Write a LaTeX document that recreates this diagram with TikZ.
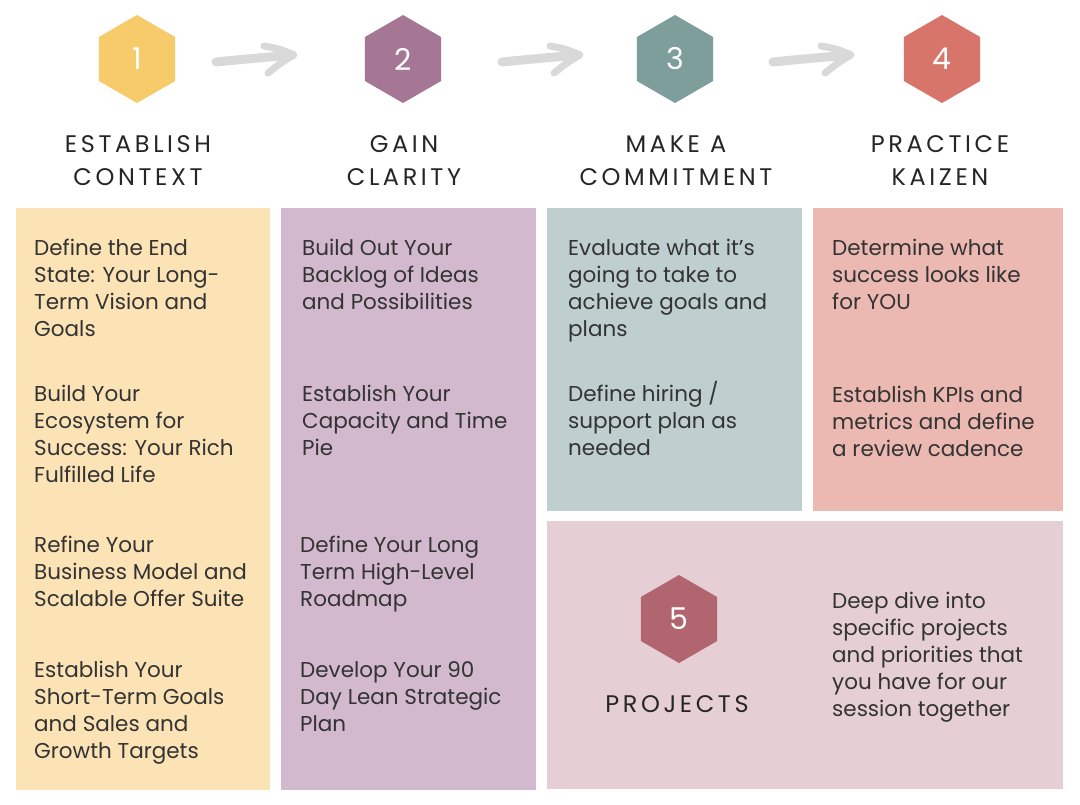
\documentclass[tikz,border=0pt]{standalone}
\usepackage{fontspec}
\setmainfont{Poppins}
\newfontfamily\titlefont[LetterSpace=15]{Poppins}
\usetikzlibrary{shapes.geometric}
\definecolor{boxA}{HTML}{FBE3B5}
\definecolor{boxB}{HTML}{D3B9CE}
\definecolor{boxC}{HTML}{BFCFCF}
\definecolor{boxD}{HTML}{EBB9B1}
\definecolor{boxE}{HTML}{E5CFD4}
\definecolor{hexA}{HTML}{F7CB69}
\definecolor{hexB}{HTML}{A57795}
\definecolor{hexC}{HTML}{7E9E9B}
\definecolor{hexD}{HTML}{D8756A}
\definecolor{hexE}{HTML}{B0656F}
\definecolor{txt}{HTML}{333333}
\definecolor{ttl}{HTML}{262626}
\definecolor{arrgray}{HTML}{D9D9D9}
\tikzset{
  hexa/.style={regular polygon, regular polygon sides=6, shape border rotate=30,
    minimum size=88pt, inner sep=0pt, text=white, font=\fontsize{30}{30}\selectfont},
  body/.style={anchor=base west, align=left, inner sep=0pt, text=txt,
    font=\fontsize{21.5}{27}\selectfont},
  title/.style={anchor=base, align=center, inner sep=0pt, text=ttl,
    font=\titlefont\fontsize{24}{33.5}\selectfont},
  arr/.style={line width=9pt, draw=arrgray, line cap=round, line join=round}
}
\begin{document}
\begin{tikzpicture}[x=1pt,y=-1pt]
\useasboundingbox[fill=white] (0,0) rectangle (1080,804);
% panels
\fill[boxA] (16,208) rectangle (270,790);
\fill[boxB] (281,208) rectangle (536,790);
\fill[boxC] (547,208) rectangle (802,511);
\fill[boxD] (813,208) rectangle (1063,511);
\fill[boxE] (547,521) rectangle (1063,789);
% hexagons
\node[hexa, fill=hexA] (h1) at (137,59) {1};
\node[hexa, fill=hexB] (h2) at (403,59) {2};
\node[hexa, fill=hexC] (h3) at (675,59) {3};
\node[hexa, fill=hexD] (h4) at (942,59) {4};
\node[hexa, fill=hexE] (h5) at (679,619) {5};
% arrows
\foreach \dx in {0,286,557}{
  \begin{scope}[xshift=\dx pt]
    \draw[arr] (216,62) .. controls (245,59) and (270,57) .. (292,55);
    \draw[arr, line width=7pt] (264,46) .. controls (280,49) .. (294,55) .. controls (282,62) .. (268,73);
  \end{scope}
}
% titles (anchored at the baseline of the last line)
\node[title] (t1) at (138,185.5) {ESTABLISH\\CONTEXT};
\node[title] (t2) at (404,185.5) {GAIN\\CLARITY};
\node[title] (t3) at (676,185.5) {MAKE A\\COMMITMENT};
\node[title] (t4) at (940,185.5) {PRACTICE\\KAIZEN};
\node[title] (t5) at (677,712) {PROJECTS};
% column 1 (anchored at the baseline of the last line)
\node[body] (a1) at (34,336) {Define the End\\State: Your Long-\\Term Vision and\\Goals};
\node[body] (a2) at (34,482) {Build Your\\Ecosystem for\\Success: Your Rich\\Fulfilled Life};
\node[body] (a3) at (34,606) {Refine Your\\Business Model and\\Scalable Offer Suite};
\node[body] (a4) at (34,758) {Establish Your\\Short-Term Goals\\and Sales and\\Growth Targets};
% column 2
\node[body] (b1) at (302,309) {Build Out Your\\Backlog of Ideas\\and Possibilities};
\node[body] (b2) at (302,455) {Establish Your\\Capacity and Time\\Pie};
\node[body] (b3) at (300,606) {Define Your Long\\Term High-Level\\Roadmap};
\node[body] (b4) at (300,731) {Develop Your 90\\Day Lean Strategic\\Plan};
% column 3
\node[body] (c1) at (568,336) {Evaluate what it’s\\going to take to\\achieve goals and\\plans};
\node[body] (c2) at (568,455) {Define hiring /\\support plan as\\needed};
% column 4
\node[body] (d1) at (832,309) {Determine what\\success looks like\\for YOU};
\node[body] (d2) at (832,456) {Establish KPIs and\\metrics and define\\a review cadence};
% panel 5
\node[body] (e1) at (832,716) {Deep dive into\\specific projects\\and priorities that\\you have for our\\session together};
\end{tikzpicture}
\end{document}
